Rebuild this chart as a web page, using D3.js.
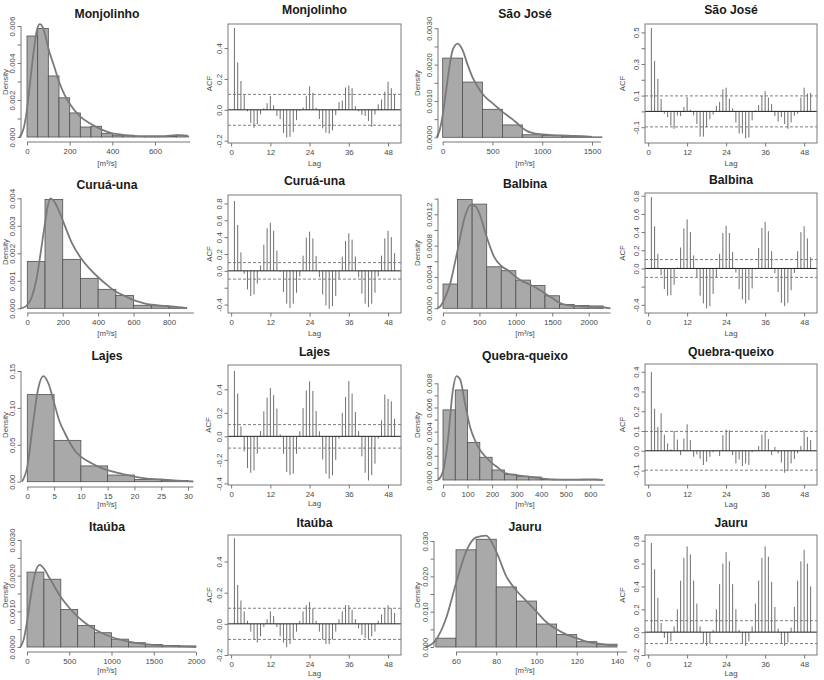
<!DOCTYPE html>
<html><head><meta charset="utf-8">
<script src="https://cdn.jsdelivr.net/npm/d3@7"></script>
<style>body{margin:0;background:#fff} svg{display:block}</style>
</head><body><svg id="c" width="824" height="680"></svg>
<script>
// ---------------- DATA ----------------
const stations = ["Monjolinho","São José","Curuá-una","Balbina","Lajes","Quebra-queixo","Itaúba","Jauru"];
const binStart = [0,0,0,0,0,0,0,50];
const binWidth = [50,200,100,200,5,50,200,10];

const histMonjolinho = [0.00546,0.00587,0.0033,0.00212,0.0013,0.00054,0.00058,0.0002,0.0001,0.0001,0.00002,0.00003,0.00003,0.00005,0.0001];
const histSaoJose = [0.00218,0.00152,0.00077,0.00034,0.00007,0.00005,0.00003,0.00001];
const histCurua = [0.0017,0.00396,0.00178,0.00109,0.00069,0.00047,0.00011,0.00009,0.00002];
const histBalbina = [0.00031,0.00139,0.00133,0.00053,0.00048,0.00036,0.00029,0.00016,0.00005,0.000035,0.00003];
const histLajes = [0.118,0.056,0.0214,0.009,0.003,0.0015];
const histQQ = [0.0058,0.00745,0.0031,0.00188,0.00083,0.00047,0.00028,0.00025,0.00005,0.00003,0.00002,0.00002,0.00004];
const histItauba = [0.0021,0.0019,0.00105,0.0006,0.0004,0.00022,0.00012,0.00007,0.00004,0.00003];
const histJauru = [0.0025,0.0275,0.0305,0.017,0.013,0.0065,0.0035,0.0015,0.0008];

const densXMonjolinho = [-35,-15,0,15,30,45,60,75,90,100,125,150,175,200,250,300,350,400,450,500,550,600,650,700,730,760];
const densYMonjolinho = [0,0.0005,0.0015,0.003,0.0045,0.0057,0.0061,0.0059,0.0053,0.0048,0.0039,0.003,0.0023,0.0018,0.0011,0.0007,0.0004,0.0002,0.00012,0.00006,0.00004,0.00004,0.00005,0.0001,0.00009,0.00002];
const densXSaoJose = [-60,-30,0,30,60,100,150,200,250,300,350,400,450,500,550,600,650,700,750,800,850,900,1000,1100,1200,1300,1400,1500];
const densYSaoJose = [0,0.0002,0.0006,0.0012,0.0018,0.0024,0.00258,0.0024,0.002,0.00165,0.0014,0.0012,0.00105,0.00094,0.00082,0.0007,0.0006,0.0005,0.00038,0.00026,0.00017,0.00012,0.00008,0.00006,0.00005,0.00004,0.00003,0.00001];
const densXCurua = [-40,-20,0,25,50,75,100,115,130,150,175,200,250,300,350,400,450,500,550,600,650,700,750,800,850,900];
const densYCurua = [0,0.00003,0.00012,0.0004,0.001,0.002,0.0031,0.0037,0.004,0.0039,0.0036,0.0032,0.0024,0.00185,0.00145,0.00113,0.00085,0.0006,0.00045,0.0003,0.0002,0.00013,0.0001,0.00008,0.00004,0.00001];
const densXBalbina = [-80,-40,0,100,200,300,380,450,500,600,700,800,900,1000,1100,1200,1300,1400,1500,1600,1700,1800,2000,2200,2300];
const densYBalbina = [0,0.00002,0.00008,0.00032,0.00074,0.00117,0.00132,0.0013,0.00121,0.00091,0.00066,0.00054,0.00048,0.0004,0.00034,0.0003,0.00025,0.00019,0.00013,0.00007,0.00004,0.00003,0.00002,0.00001,0];
const densXLajes = [-1,0,1,2,3,4,5,6,7,8,9,10,12,14,16,18,20,22,25,28,31];
const densYLajes = [0,0.02,0.075,0.125,0.143,0.132,0.107,0.082,0.066,0.052,0.041,0.034,0.025,0.018,0.0136,0.01,0.0068,0.0045,0.003,0.0015,0.0003];
const densXQQ = [-20,0,20,40,55,70,90,110,130,150,175,200,225,250,300,350,400,450,500,550,600,625,650];
const densYQQ = [0,0.0007,0.0033,0.0074,0.0086,0.0083,0.0063,0.0044,0.0033,0.0025,0.0019,0.0014,0.001,0.0006,0.0004,0.00028,0.00014,0.00005,0.00003,0.00003,0.00005,0.00004,0];
const densXItauba = [-80,-40,0,50,100,150,200,250,300,400,500,600,700,800,900,1000,1200,1400,1600,1800,2000];
const densYItauba = [0,0.0002,0.0007,0.0015,0.0021,0.0023,0.0022,0.002,0.0018,0.0014,0.0011,0.00085,0.00065,0.0005,0.00038,0.00028,0.00015,0.00008,0.00004,0.00002,0];
const densXJauru = [45,50,55,60,65,70,75,80,85,90,95,100,105,110,115,120,125,130,135,140];
const densYJauru = [0,0.002,0.008,0.018,0.027,0.031,0.0315,0.027,0.02,0.016,0.013,0.01,0.007,0.005,0.0035,0.0025,0.0015,0.001,0.0006,0.0003];

// ACF values, lags 1..50
const acfMonjolinho = [0.53,0.307,0.187,0.10,-0.01,-0.085,-0.117,-0.095,-0.03,0.01,0.043,0.09,0.03,-0.04,-0.06,-0.15,-0.18,-0.175,-0.145,-0.067,-0.005,0.015,0.09,0.152,0.11,0.013,-0.06,-0.12,-0.148,-0.155,-0.133,-0.035,0.05,0.06,0.145,0.158,0.14,0.024,-0.01,-0.033,-0.04,-0.072,-0.11,-0.03,0.035,0.067,0.117,0.182,0.14,0.10];
const acfSaoJose = [0.528,0.32,0.206,0.079,-0.015,-0.036,-0.09,-0.11,-0.025,-0.03,0.028,0.09,0.01,-0.025,-0.08,-0.16,-0.16,-0.1,-0.05,-0.02,0.036,0.06,0.14,0.15,0.08,0.02,-0.07,-0.14,-0.14,-0.17,-0.165,-0.057,0.006,0.04,0.098,0.128,0.087,0.047,-0.03,-0.064,-0.036,-0.08,-0.11,-0.07,-0.028,-0.015,0.087,0.15,0.113,0.117];
const acfCurua = [0.83,0.545,0.22,-0.035,-0.22,-0.3,-0.28,-0.15,0.063,0.31,0.505,0.57,0.475,0.24,-0.01,-0.25,-0.39,-0.44,-0.39,-0.26,-0.065,0.18,0.395,0.465,0.385,0.175,-0.075,-0.28,-0.41,-0.45,-0.42,-0.3,-0.095,0.17,0.355,0.445,0.37,0.17,-0.075,-0.27,-0.39,-0.43,-0.39,-0.26,-0.065,0.18,0.385,0.475,0.40,0.21];
const acfBalbina = [0.785,0.464,0.162,-0.075,-0.226,-0.3,-0.295,-0.18,0.01,0.23,0.44,0.54,0.40,0.143,-0.1,-0.3,-0.385,-0.44,-0.415,-0.28,-0.1,0.162,0.39,0.47,0.39,0.18,-0.045,-0.226,-0.34,-0.385,-0.347,-0.22,-0.01,0.226,0.445,0.513,0.41,0.19,-0.05,-0.26,-0.377,-0.415,-0.377,-0.24,-0.05,0.19,0.40,0.464,0.33,0.125];
const acfLajes = [0.557,0.364,0.085,-0.128,-0.27,-0.31,-0.29,-0.148,0.045,0.213,0.33,0.41,0.35,0.236,0.017,-0.148,-0.304,-0.33,-0.318,-0.148,0.043,0.24,0.39,0.468,0.386,0.216,0.043,-0.196,-0.318,-0.36,-0.33,-0.2,-0.02,0.2,0.335,0.47,0.364,0.207,0.045,-0.17,-0.31,-0.375,-0.33,-0.233,-0.02,0.136,0.355,0.318,0.298,0.15];
const acfQQ = [0.398,0.213,0.12,0.19,0.082,0.037,0.008,0.1,0.057,-0.022,0.062,0.134,0.054,-0.03,-0.018,-0.04,-0.072,-0.055,-0.03,-0.007,0.003,-0.027,0.079,0.107,0.104,-0.022,-0.064,-0.044,-0.077,-0.064,-0.072,-0.007,0.003,0.024,0.082,0.1,0.059,-0.022,0.02,-0.013,-0.06,-0.111,-0.103,-0.064,-0.042,-0.013,0.024,0.104,0.07,0.054];
const acfItauba = [0.55,0.25,0.15,0.08,0.02,-0.05,-0.1,-0.12,-0.08,-0.02,0.03,0.08,0.05,-0.02,-0.08,-0.12,-0.15,-0.13,-0.1,-0.05,0.02,0.08,0.12,0.14,0.1,0.02,-0.05,-0.1,-0.13,-0.13,-0.1,-0.05,0.03,0.08,0.12,0.12,0.09,0.03,-0.03,-0.07,-0.09,-0.1,-0.08,-0.05,0.02,0.06,0.1,0.12,0.1,0.07];
const acfJauru = [0.78,0.55,0.3,0.08,-0.05,-0.1,-0.08,0.05,0.2,0.45,0.65,0.75,0.68,0.45,0.25,0.05,-0.1,-0.12,-0.1,0.02,0.2,0.42,0.6,0.7,0.62,0.42,0.2,0.02,-0.1,-0.12,-0.08,0.05,0.25,0.45,0.65,0.75,0.66,0.44,0.22,0.03,-0.1,-0.12,-0.09,0.04,0.22,0.45,0.62,0.72,0.6,0.4];
const acfCI = [0.1,0.098,0.098,0.098,0.1,0.098,0.1,0.1];

// tick values and labels
const histYTicks = [
  [0,0.001,0.002,0.003,0.004,0.005,0.006],
  [0,0.0005,0.001,0.0015,0.002,0.0025,0.003],
  [0,0.001,0.002,0.003,0.004],
  [0,0.0002,0.0004,0.0006,0.0008,0.001,0.0012,0.0014],
  [0,0.05,0.1,0.15],
  [0,0.001,0.002,0.003,0.004,0.005,0.006,0.007,0.008],
  [0,0.0005,0.001,0.0015,0.002,0.0025,0.003],
  [0,0.005,0.01,0.015,0.02,0.025,0.03]
];
const histYLabels = [
  ["0.000","","0.002","","0.004","","0.006"],
  ["0.0000","","0.0010","","0.0020","","0.0030"],
  ["0.000","0.001","0.002","0.003","0.004"],
  ["0.0000","","0.0004","","0.0008","","0.0012",""],
  ["0.00","0.05","0.10","0.15"],
  ["0.000","","0.002","","0.004","","0.006","","0.008"],
  ["0.0000","","0.0010","","0.0020","","0.0030"],
  ["0.000","","0.010","","0.020","","0.030"]
];
const histXTicks = [
  [0,200,400,600],[0,500,1000,1500],[0,200,400,600,800],[0,500,1000,1500,2000],
  [0,5,10,15,20,25,30],[0,100,200,300,400,500,600],[0,500,1000,1500,2000],[60,80,100,120,140]
];
const acfYTicks = [
  [-0.2,0,0.2,0.4],
  [-0.1,0,0.1,0.2,0.3,0.4,0.5],
  [-0.4,-0.2,0,0.2,0.4,0.6,0.8],
  [-0.4,-0.2,0,0.2,0.4,0.6,0.8],
  [-0.4,-0.2,0,0.2,0.4],
  [-0.1,0,0.1,0.2,0.3,0.4],
  [-0.2,0,0.2,0.4],
  [-0.2,0,0.2,0.4,0.6,0.8]
];
const acfYLabels = [
  ["-0.2","0.0","0.2","0.4"],
  ["-0.1","","0.1","","0.3","","0.5"],
  ["-0.4","","0.0","0.2","0.4","0.6","0.8"],
  ["-0.4","","0.0","0.2","0.4","0.6","0.8"],
  ["-0.4","-0.2","0.0","0.2","0.4"],
  ["-0.1","0.0","0.1","0.2","0.3","0.4"],
  ["-0.2","0.0","0.2","0.4"],
  ["-0.2","0.0","0.2","0.4","0.6","0.8"]
];
const lagTicks = [0,12,24,36,48];

const histData = [histMonjolinho,histSaoJose,histCurua,histBalbina,histLajes,histQQ,histItauba,histJauru];
const densX = [densXMonjolinho,densXSaoJose,densXCurua,densXBalbina,densXLajes,densXQQ,densXItauba,densXJauru];
const densY = [densYMonjolinho,densYSaoJose,densYCurua,densYBalbina,densYLajes,densYQQ,densYItauba,densYJauru];
const acfData = [acfMonjolinho,acfSaoJose,acfCurua,acfBalbina,acfLajes,acfQQ,acfItauba,acfJauru];

// ---------------- LAYOUT ----------------
const histLayout = [
  {xv:[0,600],xp:[27,155],yv:0.006,yp:[137,26],ax:21,ay:142,xEnd:765,tx:107,ty:17.5,lx:107,ly:166,dx:5.5,dy:82},
  {xv:[0,1500],xp:[442.7,592],yv:0.003,yp:[137.3,28.3],ax:438,ay:142,xEnd:1590,tx:525,ty:17.5,lx:525,ly:166,dx:417,dy:83},
  {xv:[0,800],xp:[27.3,169],yv:0.004,yp:[308.3,198.3],ax:21,ay:313,xEnd:940,tx:107,ty:189,lx:107,ly:336,dx:5.5,dy:252},
  {xv:[0,2000],xp:[443,588.7],yv:0.0012,yp:[308.3,214.3],ax:438,ay:313,xEnd:2300,tx:525,ty:188,lx:525,ly:336,dx:417,dy:253},
  {xv:[0,30],xp:[27.3,188],yv:0.15,yp:[481.7,371],ax:21,ay:487,xEnd:31,tx:107,ty:360,lx:107,ly:507,dx:5.5,dy:425},
  {xv:[0,600],xp:[443,590.3],yv:0.008,yp:[480,383.3],ax:438,ay:485,xEnd:660,tx:525,ty:360,lx:525,ly:507,dx:417,dy:425},
  {xv:[0,2000],xp:[27,196],yv:0.003,yp:[647,540],ax:21,ay:652,xEnd:2000,tx:107,ty:531,lx:107,ly:673,dx:5.5,dy:595},
  {xv:[60,140],xp:[456,617],yv:0.03,yp:[647,541],ax:434,ay:652,xEnd:145,tx:525,ty:531,lx:525,ly:673,dx:417,dy:595}
];
const acfLayout = [
  {l:228,r:401,t:24,b:143,ymin:-0.215,ymax:0.556,ty:13.5,ly:165.5,ax:211},
  {l:645,r:817,t:24,b:143,ymin:-0.2,ymax:0.553,ty:13.5,ly:165.5,ax:624},
  {l:228,r:401,t:195,b:313,ymin:-0.5,ymax:0.9,ty:185,ly:336,ax:211},
  {l:645,r:817,t:193,b:313,ymin:-0.49,ymax:0.83,ty:184,ly:336,ax:624},
  {l:228,r:401,t:365,b:485,ymin:-0.414,ymax:0.607,ty:356,ly:506,ax:210},
  {l:645,r:817,t:364,b:485,ymin:-0.173,ymax:0.439,ty:356,ly:507,ax:624},
  {l:228,r:401,t:535,b:655,ymin:-0.2,ymax:0.57,ty:527,ly:676,ax:211},
  {l:645,r:817,t:535,b:655,ymin:-0.2,ymax:0.85,ty:527,ly:676,ax:624}
];

// ---------------- DRAW ----------------
const FONT = '"Liberation Sans", Arial, Helvetica, sans-serif';
const AXC = "#6a6a6a", TXC = "#4a4a4a";
const svg = d3.select("#c");

function styleAxis(g){
  g.selectAll("line").attr("stroke",AXC).attr("stroke-width",0.9);
  g.selectAll("path.domain").attr("stroke",AXC).attr("stroke-width",0.9);
  g.selectAll("text").attr("fill",TXC).attr("font-family",FONT).attr("font-size",7.9);
}
function leftAxis(g, scale, ticks, labels, x){
  const a = d3.axisLeft(scale).tickValues(ticks).tickFormat((d,i)=>labels[i]).tickSize(3.5).tickSizeOuter(0);
  const ag = g.append("g").attr("transform",`translate(${x},0)`).call(a);
  ag.select("path.domain").remove();
  ag.append("line").attr("x1",0).attr("x2",0).attr("y1",scale(ticks[0])).attr("y2",scale(ticks[ticks.length-1]));
  ag.selectAll(".tick text").attr("transform","rotate(-90)").attr("text-anchor","middle")
    .attr("x",0).attr("y",-6).attr("dy",0);
  styleAxis(ag);
  return ag;
}
function bottomAxis(g, scale, ticks, y, xEndVal){
  const a = d3.axisBottom(scale).tickValues(ticks).tickFormat(d=>String(d)).tickSize(3.5).tickSizeOuter(0);
  const ag = g.append("g").attr("transform",`translate(0,${y})`).call(a);
  ag.select("path.domain").remove();
  ag.append("line").attr("y1",0).attr("y2",0).attr("x1",scale(ticks[0])).attr("x2",scale(xEndVal));
  ag.selectAll(".tick text").attr("y",6).attr("dy","0.71em");
  styleAxis(ag);
}
function title(g, txt, x, y){
  g.append("text").attr("x",x).attr("y",y).attr("text-anchor","middle")
   .attr("font-family",FONT).attr("font-weight","bold").attr("font-size",12.2).attr("fill","#1a1a1a").text(txt);
}
function axTitle(g, txt, x, y, rot){
  const t = g.append("text").attr("text-anchor","middle").attr("font-family",FONT)
    .attr("font-size",7.8).attr("fill",TXC).text(txt);
  if(rot) t.attr("transform",`translate(${x},${y}) rotate(-90)`).attr("dy","0.35em");
  else t.attr("x",x).attr("y",y);
}

// Histograms
histData.forEach((vals,k)=>{
  const L = histLayout[k];
  const g = svg.append("g");
  const x = d3.scaleLinear().domain(L.xv).range(L.xp);
  const y = d3.scaleLinear().domain([0,L.yv]).range(L.yp);
  g.selectAll("rect").data(vals).join("rect")
    .attr("x",(d,i)=>x(binStart[k]+i*binWidth[k]))
    .attr("width",(d,i)=>x(binStart[k]+(i+1)*binWidth[k])-x(binStart[k]+i*binWidth[k]))
    .attr("y",d=>y(d)).attr("height",d=>y(0)-y(d))
    .attr("fill","#a9a9a9").attr("stroke","#505050").attr("stroke-width",0.8);
  const line = d3.line().x(d=>x(d[0])).y(d=>y(d[1])).curve(d3.curveMonotoneX);
  g.append("path").datum(d3.zip(densX[k],densY[k])).attr("d",line)
    .attr("fill","none").attr("stroke","#7a7a7a").attr("stroke-width",1.8);
  leftAxis(g, y, histYTicks[k], histYLabels[k], L.ax);
  bottomAxis(g, x, histXTicks[k], L.ay, L.xEnd);
  title(g, stations[k], L.tx, L.ty);
  axTitle(g, "[m³/s]", L.lx, L.ly, false);
  axTitle(g, "Density", L.dx, L.dy, true);
});

// ACF panels
acfData.forEach((vals,k)=>{
  const L = acfLayout[k];
  const g = svg.append("g");
  const x = d3.scaleLinear().domain([-0.96,51.96]).range([L.l,L.r]);
  const y = d3.scaleLinear().domain([L.ymin,L.ymax]).range([L.b,L.t]);
  const ci = acfCI[k];
  [ci,-ci].forEach(c=>{
    g.append("line").attr("x1",L.l).attr("x2",L.r).attr("y1",y(c)).attr("y2",y(c))
      .attr("stroke","#808080").attr("stroke-width",1).attr("stroke-dasharray","3,2");
  });
  g.selectAll("line.lag").data(vals).join("line").attr("class","lag")
    .attr("x1",(d,i)=>x(i+1)).attr("x2",(d,i)=>x(i+1))
    .attr("y1",y(0)).attr("y2",d=>y(d))
    .attr("stroke","#707070").attr("stroke-width",1);
  g.append("line").attr("x1",L.l).attr("x2",L.r).attr("y1",y(0)).attr("y2",y(0))
    .attr("stroke","#202020").attr("stroke-width",1);
  g.append("rect").attr("x",L.l).attr("y",L.t).attr("width",L.r-L.l).attr("height",L.b-L.t)
    .attr("fill","none").attr("stroke","#7a7a7a").attr("stroke-width",1);
  const ya = d3.axisLeft(y).tickValues(acfYTicks[k]).tickFormat((d,i)=>acfYLabels[k][i]).tickSize(3.5).tickSizeOuter(0);
  const yg = g.append("g").attr("transform",`translate(${L.l},0)`).call(ya);
  yg.select("path.domain").remove();
  yg.selectAll(".tick text").attr("transform","rotate(-90)").attr("text-anchor","middle").attr("x",0).attr("y",-6).attr("dy",0);
  styleAxis(yg);
  const xa = d3.axisBottom(x).tickValues(lagTicks).tickSize(3.5).tickSizeOuter(0);
  const xg = g.append("g").attr("transform",`translate(0,${L.b})`).call(xa);
  xg.select("path.domain").remove();
  xg.selectAll(".tick text").attr("y",6).attr("dy","0.71em");
  styleAxis(xg);
  title(g, stations[k], (L.l+L.r)/2, L.ty);
  axTitle(g, "Lag", (L.l+L.r)/2, L.ly, false);
  axTitle(g, "ACF", L.ax - 2, (L.t+L.b)/2, true);
});
</script></body></html>
